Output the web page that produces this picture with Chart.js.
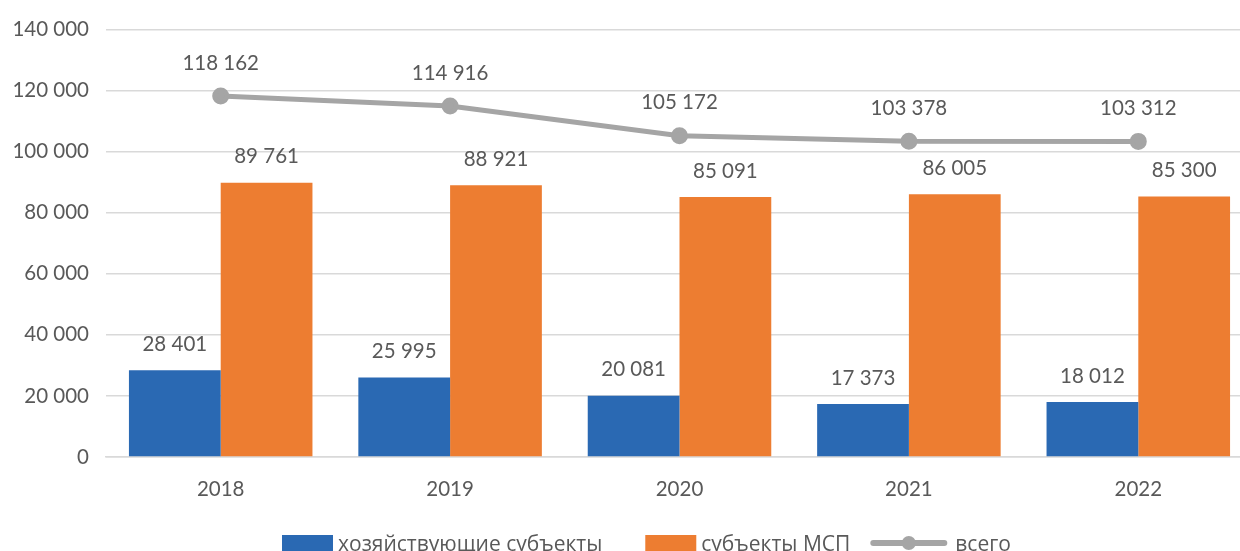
<!DOCTYPE html>
<html>
<head>
<meta charset="utf-8">
<script src="https://cdn.jsdelivr.net/npm/chart.js@4/dist/chart.umd.min.js"></script>
<style>
  html, body { margin: 0; padding: 0; background: #fff; overflow: hidden; }
  #wrap { position: relative; width: 1264px; height: 551px; }
</style>
</head>
<body>
<div id="wrap"><canvas id="bar-line-chart"></canvas></div>
<script>
var years = ["2018", "2019", "2020", "2021", "2022"];
var businesses = [28401, 25995, 20081, 17373, 18012];
var smeSubjects = [89761, 88921, 85091, 86005, 85300];
var totals = [118162, 114916, 105172, 103378, 103312];
var yTicks = [0, 20000, 40000, 60000, 80000, 100000, 120000, 140000];

var textColor = "#595959";
var fontFamily = "Lato, 'Open Sans', sans-serif";
var blue = "#2A69B3", orange = "#ED7D31", gray = "#A5A5A5";

function fmt(n) {
  return String(n).replace(/\B(?=(\d{3})+(?!\d))/g, " ");
}

var valueLabels = {
  id: "valueLabels",
  afterDatasetsDraw: function (chart) {
    var ctx = chart.ctx;
    ctx.save();
    ctx.font = "20.5px " + fontFamily;
    ctx.fillStyle = textColor;
    ctx.textAlign = "center";
    ctx.textBaseline = "middle";
    chart.data.datasets.forEach(function (ds, i) {
      var meta = chart.getDatasetMeta(i);
      var off = ds.type === "line" ? 33 : 26;
      meta.data.forEach(function (el, j) {
        ctx.fillText(fmt(ds.data[j]), el.x, el.y - off);
      });
    });
    ctx.restore();
  }
};

// excel-like legend at the bottom, partly cut off by the page edge
var bottomLegend = {
  id: "bottomLegend",
  afterDraw: function (chart) {
    var ctx = chart.ctx;
    var items = [
      { text: "хозяйствующие субъекты", kind: "box", color: blue, gap: 43 },
      { text: "субъекты МСП", kind: "box", color: orange, gap: 20 },
      { text: "всего", kind: "line", color: gray, gap: 0 }
    ];
    ctx.save();
    ctx.font = "21px 'Open Sans', sans-serif";
    ctx.textBaseline = "middle";
    var x = 282;
    items.forEach(function (it) {
      var w = ctx.measureText(it.text).width;
      var mark = it.kind === "box" ? 51 : 77;
      if (it.kind === "box") {
        ctx.fillStyle = it.color;
        ctx.fillRect(x, 535, mark, 20);
      } else {
        ctx.strokeStyle = it.color;
        ctx.lineWidth = 6;
        ctx.lineCap = "round";
        ctx.beginPath(); ctx.moveTo(x + 3, 543); ctx.lineTo(x + mark - 3, 543); ctx.stroke();
        ctx.fillStyle = it.color;
        ctx.beginPath(); ctx.arc(x + mark / 2, 543, 7, 0, Math.PI * 2); ctx.fill();
      }
      x += mark + (it.kind === "box" ? 5 : 8);
      ctx.fillStyle = textColor;
      ctx.fillText(it.text, x, 545);
      x += w + it.gap;
    });
    ctx.restore();
  }
};

new Chart(document.getElementById("bar-line-chart"), {
  type: "bar",
  data: {
    labels: years,
    datasets: [
      {
        type: "line",
        label: "всего",
        data: totals,
        borderColor: gray,
        backgroundColor: gray,
        borderWidth: 5,
        pointStyle: "circle",
        pointRadius: 6,
        pointHoverRadius: 6,
        tension: 0,
        order: 0
      },
      {
        label: "хозяйствующие субъекты",
        data: businesses,
        backgroundColor: blue,
        order: 1,
        categoryPercentage: 0.8,
        barPercentage: 1.0
      },
      {
        label: "субъекты МСП",
        data: smeSubjects,
        backgroundColor: orange,
        order: 1,
        categoryPercentage: 0.8,
        barPercentage: 1.0
      }
    ]
  },
  options: {
    responsive: true,
    maintainAspectRatio: false,
    animation: false,
    layout: { padding: { top: 12, right: 0, left: 0, bottom: 44 } },
    plugins: {
      legend: { display: false },
      tooltip: { enabled: false }
    },
    scales: {
      x: {
        grid: { display: false },
        border: { color: "#D9D9D9", width: 1.5 },
        ticks: { color: textColor, font: { family: fontFamily, size: 20.5 }, padding: 12 },
        afterFit: function (s) { s.height = 50; }
      },
      y: {
        min: 0,
        max: 140000,
        afterBuildTicks: function (s) { s.ticks = yTicks.map(function (v) { return { value: v }; }); },
        grid: { color: "#D9D9D9", lineWidth: 1.5, drawTicks: false },
        border: { display: false },
        ticks: {
          color: textColor,
          font: { family: fontFamily, size: 20.5 },
          padding: 17,
          callback: function (v) { return fmt(v); }
        },
        afterFit: function (s) { s.width = 106; }
      }
    }
  },
  plugins: [valueLabels, bottomLegend]
});
</script>
</body>
</html>
